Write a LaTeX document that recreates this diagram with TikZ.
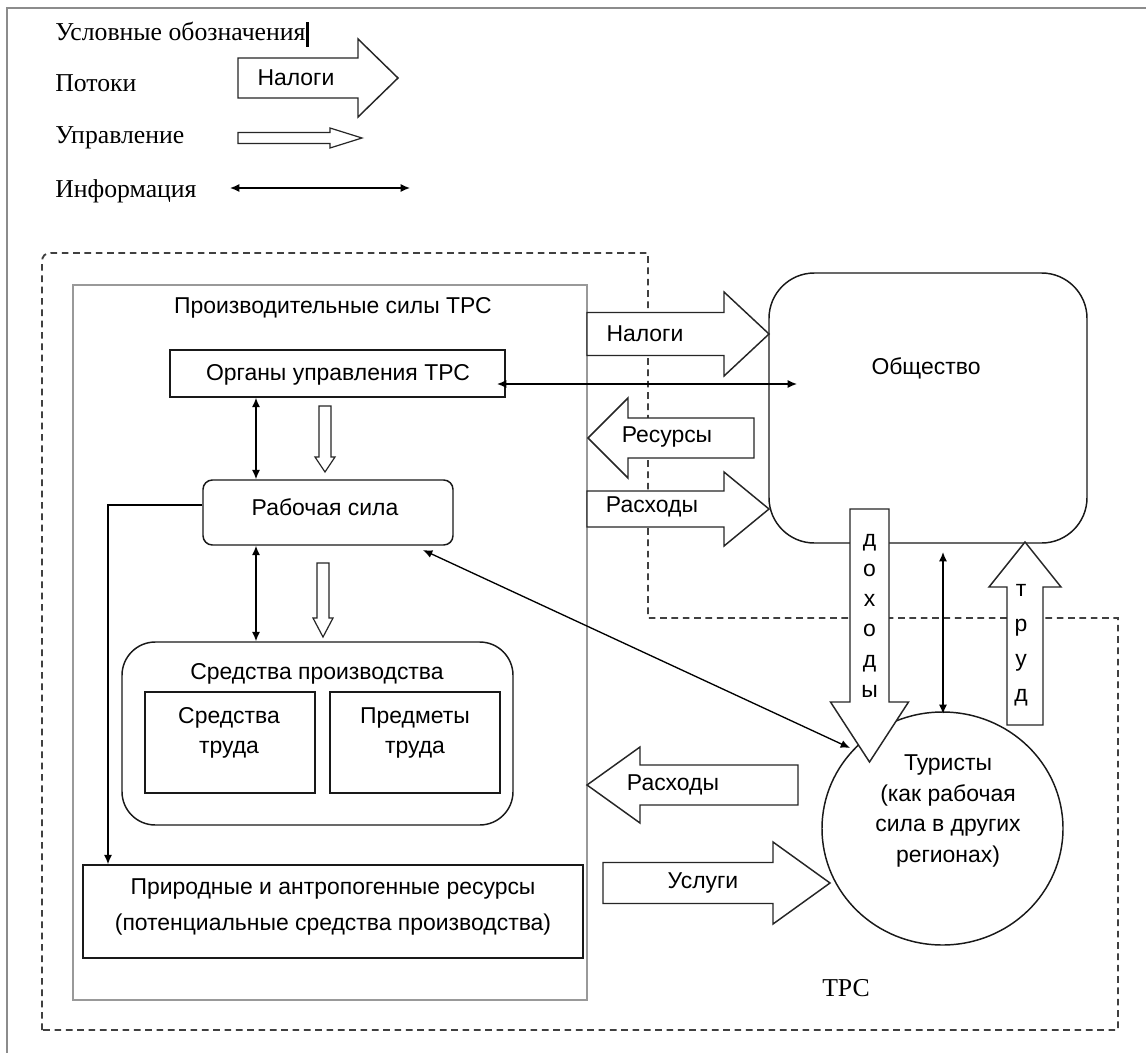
\documentclass[tikz,border=0pt]{standalone}
\usepackage{fontspec}
\setmainfont{Liberation Serif}
\newfontfamily\sff{Liberation Sans}
\usetikzlibrary{arrows.meta}
\def\u{0.75pt}
\newcommand\rblock[7][]{\draw[blockarrow,#1] (#2,{#5-#6}) -- (#3,{#5-#6}) -- (#3,{#5-#7}) -- (#4,#5) -- (#3,{#5+#7}) -- (#3,{#5+#6}) -- (#2,{#5+#6}) -- cycle;}
\newcommand\vblock[7][]{\draw[blockarrow,#1] ({#5-#6},#2) -- ({#5-#6},#3) -- ({#5-#7},#3) -- (#5,#4) -- ({#5+#7},#3) -- ({#5+#6},#3) -- ({#5+#6},#2) -- cycle;}
\tikzset{
  sans/.style={font=\sff\fontsize{17.2}{20}\selectfont, inner sep=0},
  serif/.style={font=\fontsize{19.3}{22}\selectfont, inner sep=0},
  blockarrow/.style={draw=black!85, fill=white, line width=1.1pt, line join=miter},
  ctrl/.style={line width=0.9pt},
  boxa/.style={draw=black!90, line width=1.1pt, inner sep=0, fill=white},
  info/.style={{Latex[length=7pt,width=6pt]}-{Latex[length=7pt,width=6pt]}, line width=1pt},
  tdash/.style={draw=black!75, line width=1.4pt, dash pattern=on 5pt off 3.5pt},
}
\begin{document}
\begin{tikzpicture}[x=0.75pt,y=-0.75pt]
\useasboundingbox (0,0) rectangle (1146,1053);
\fill[white] (0,0) rectangle (1146,1053);
% page frame
\draw[black!45, line width=1.3pt] (7,1053) -- (7,8) -- (1146,8);

% legend
\node[serif, anchor=base west] (lg1) at (55,40) {Условные обозначения};
\draw[line width=2.2pt] (lg1.east |- 0,22) ++(2,0) -- ++(0,25);
\node[serif, anchor=base west] (lg2) at (55,91) {Потоки};
\rblock{238}{358}{398}{78}{20}{39}
\node[sans] (lgn) at (296,78) {Налоги};
\node[serif, anchor=base west] (lg3) at (55,143) {Управление};
\rblock[ctrl]{238}{330}{362}{138}{5.5}{10}
\node[serif, anchor=base west] (lg4) at (55,197) {Информация};
\coordinate (li1) at (230,188);
\coordinate (li2) at (410,188);
\draw[info] (li1) -- (li2);

% TRS dashed boundary
\draw[tdash] (42,1030) -- (42,262) .. controls (42,256) and (45,253) .. (51,253) -- (648,253) -- (648,618) -- (1118,618) -- (1118,1030) -- cycle;
\node[serif] (trs) at (846,988) {ТРС};

% productive forces box
\node[draw=black!40, line width=1.1pt, inner sep=0, minimum width=514*\u, minimum height=715*\u] (prod) at (330,642.5) {};
\node[sans] (prodt) at (333,308) {Производительные силы ТРС};

\node[boxa, minimum width=335*\u, minimum height=47*\u] (organy) at (337.5,373.5) {};
\node[sans] (organyt) at (338,375) {Органы управления ТРС};

\node[boxa, rounded corners=7pt, minimum width=250*\u, minimum height=65*\u] (rab) at (328,512.5) {};
\node[sans] (rabt) at (325,507) {Рабочая сила};

\node[boxa, rounded corners=25pt, minimum width=391*\u, minimum height=183*\u] (sred) at (317.5,733.5) {};
\node[sans] (sredt) at (317,674) {Средства производства};
\node[boxa, minimum width=170*\u, minimum height=101*\u] (st) at (230,742.5) {};
\node[sans] (stt1) at (229,718) {Средства};
\node[sans] (stt2) at (229,750) {труда};
\node[boxa, minimum width=170*\u, minimum height=101*\u] (pt) at (415,742.5) {};
\node[sans] (ptt1) at (415,718) {Предметы};
\node[sans] (ptt2) at (415,750) {труда};

\node[boxa, minimum width=500*\u, minimum height=93*\u] (prir) at (333,911.5) {};
\node[sans] (prirt1) at (333,889) {Природные и антропогенные ресурсы};
\node[sans] (prirt2) at (333,925) {(потенциальные средства производства)};

% society
\node[boxa, fill=none, rounded corners=34pt, minimum width=318*\u, minimum height=270*\u] (obsh) at (928,408) {};
\node[sans] (obsht) at (926,368) {Общество};

% tourists
\draw[black!90, line width=1.1pt] (942.5,828.5) ellipse [x radius=120.5, y radius=116.5];
\coordinate (tur) at (942.5,828.5);
\node[sans, align=center, font=\sff\fontsize{17.2}{23}\selectfont] (turt) at (948,811) {Туристы\\(как рабочая\\сила в других\\регионах)};

% control arrows
\vblock[ctrl]{406}{457}{472}{325}{6}{10}
\vblock[ctrl]{563}{618}{637}{323}{6}{10}

% flow arrows
\rblock{587}{724}{769}{334}{21.5}{42}
\node[sans] (nal) at (645,334) {Налоги};
\rblock{754}{628}{588}{438}{20}{40}
\node[sans] (res) at (667,437) {Ресурсы};
\rblock{587}{724}{769}{509}{18}{37}
\node[sans] (ras1) at (652,507) {Расходы};
\rblock{798}{640}{587}{785}{20}{38}
\node[sans] (ras2) at (673,785) {Расходы};
\rblock{603}{773}{830}{883}{20.5}{41}
\node[sans] (usl) at (703,883) {Услуги};
\vblock{509}{702}{762}{869.5}{19.5}{39}
\foreach \ch [count=\i from 0] in {д,о,х,о,д,ы}
  \node[sans, anchor=base] (dh\i) at (869.5,{546+30.3*\i}) {\ch};
\vblock{725}{587}{542}{1025}{18}{36}
\foreach \ch [count=\i from 0] in {т,р,у,д}
  \node[sans, anchor=base] (tr\i) at (1021,{596+35*\i}) {\ch};

% information arrows
\coordinate (xa) at (256,0);
\draw[info] (organy.south -| xa) -- (rab.north -| xa);
\draw[info] (rab.south -| xa) -- (sred.north -| xa);
\coordinate (oi1) at (497,384);
\coordinate (oi2) at (797,384);
\draw[info] (oi1) -- (oi2);
\coordinate (ri1) at (423,550);
\coordinate (ri2) at (850,748);
\draw[info] (ri1) -- (ri2);
\coordinate (ti1) at (943,552);
\coordinate (ti2) at (943,714);
\draw[info] (ti1) -- (ti2);
\coordinate (xb) at (108,0);
\draw[line width=1pt, -{Latex[length=7pt,width=6pt]}] (rab.west |- 0,505) -| (prir.north -| xb);
\end{tikzpicture}
\end{document}
